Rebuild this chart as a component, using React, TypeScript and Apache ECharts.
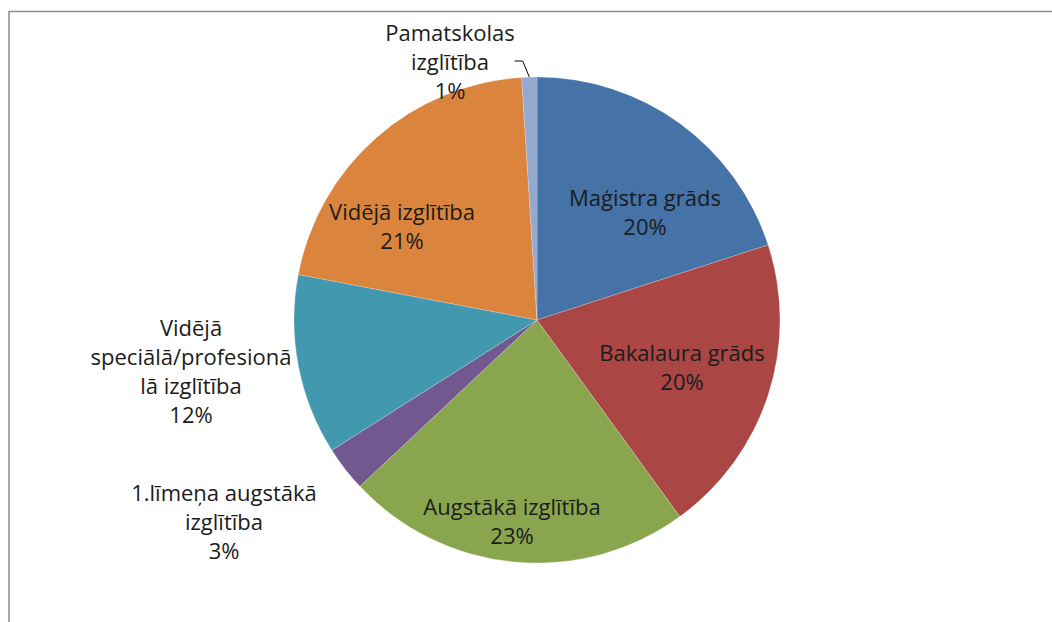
import React, { useEffect, useRef } from "react";
import * as echarts from "echarts";

const categories = [
  "Maģistra grāds",
  "Bakalaura grāds",
  "Augstākā izglītība",
  "1.līmeņa augstākā izglītība",
  "Vidējā speciālā/profesionālā izglītība",
  "Vidējā izglītība",
  "Pamatskolas izglītība",
];
const labelLines = [
  "Maģistra grāds",
  "Bakalaura grāds",
  "Augstākā izglītība",
  "1.līmeņa augstākā\nizglītība",
  "Vidējā\nspeciālā/profesionā\nlā izglītība",
  "Vidējā izglītība",
  "Pamatskolas\nizglītība",
];
const values = [20, 20, 23, 3, 12, 21, 1];
const colors = ["#4572A7", "#AA4643", "#89A54E", "#71588F", "#4198AF", "#DB843D", "#93A9CF"];
const labelPos: [number, number][] = [
  [645, 211],
  [682, 366],
  [512, 520],
  [224, 521],
  [191, 370],
  [402, 225],
  [450, 61],
];

export default function App() {
  const ref = useRef<HTMLDivElement>(null);
  useEffect(() => {
    if (!ref.current) return;
    const chart = echarts.init(ref.current, undefined, { renderer: "svg" });
    const outside = [false, false, false, true, true, false, true];
    chart.setOption({
      animation: false,
      backgroundColor: "#ffffff",
      graphic: [
        {
          type: "rect",
          shape: { x: 9, y: 11.5, width: 1200, height: 800 },
          style: { fill: "none", stroke: "#8c8c8c", lineWidth: 1.5 },
          silent: true,
        },
      ],
      series: [
        {
          type: "pie",
          center: [537, 320],
          radius: 243,
          startAngle: 90,
          clockwise: true,
          avoidLabelOverlap: false,
          itemStyle: { borderColor: "rgba(255,255,255,0.35)", borderWidth: 0.6 },
          label: {
            show: true,
            fontFamily: "Open Sans",
            fontSize: 22,
            lineHeight: 29,
            color: "#1c1c1c",
            align: "center",
            formatter: (p: any) => `${labelLines[p.dataIndex]}\n${values[p.dataIndex]}%`,
          },
          labelLayout: (p: any) => ({
            x: labelPos[p.dataIndex][0],
            y: labelPos[p.dataIndex][1],
            align: "center",
            verticalAlign: "middle",
          }),
          data: categories.map((name, i) => ({
            name,
            value: values[i],
            itemStyle: { color: colors[i] },
            label: { position: outside[i] ? "outside" : "inside" },
            labelLine: {
              show: i === 6,
              length: 30,
              length2: 8,
              lineStyle: { color: "#000", width: 1 },
            },
          })),
        },
      ],
    });
    return () => chart.dispose();
  }, []);
  return (
    <div
      ref={ref}
      style={{ position: "fixed", left: 0, top: 0, width: 1052, height: 622 }}
    />
  );
}
